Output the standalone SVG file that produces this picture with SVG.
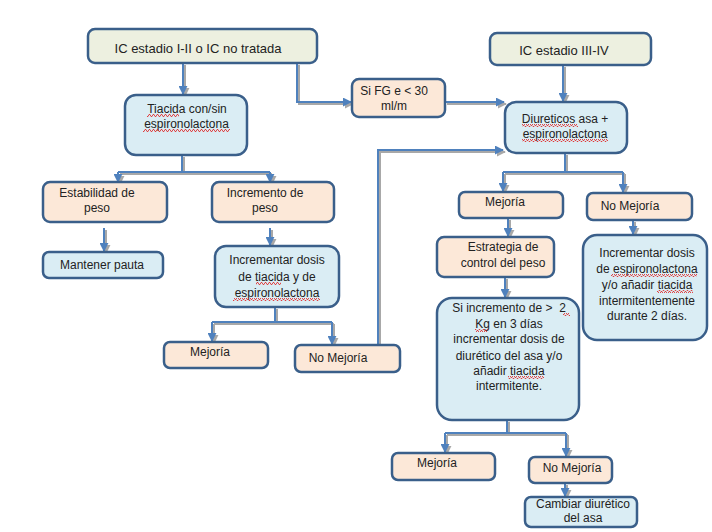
<svg xmlns="http://www.w3.org/2000/svg" width="712" height="532" viewBox="0 0 712 532">
<style>
.bx{stroke:#3A5F8A;stroke-width:2.5}
.g{fill:#EDF0E0}
.b{fill:#DAEDF4}
.p{fill:#FCE8D8}
text{font-family:"Liberation Sans",Arial,sans-serif;font-size:12px;fill:#222;text-anchor:middle}
.t13{font-size:13px}
.c{stroke:#4F81BD;stroke-width:2;fill:none}
.sh{stroke:#A8A8A8;stroke-width:2;fill:none}
.w{fill:url(#wavy)}
</style>
<defs>
<marker id="ah" viewBox="0 0 10 10" refX="9" refY="5" markerWidth="9" markerHeight="9" markerUnits="userSpaceOnUse" orient="auto">
<path d="M0,0 L10,5 L0,10 z" fill="#4F81BD"/>
</marker>
<marker id="ahs" viewBox="0 0 10 10" refX="9" refY="5" markerWidth="9" markerHeight="9" markerUnits="userSpaceOnUse" orient="auto">
<path d="M0,0 L10,5 L0,10 z" fill="#A8A8A8"/>
</marker>
<pattern id="wavy" width="4" height="3" patternUnits="userSpaceOnUse">
<polyline points="0,2.5 1,0.5 2,0.5 3,2.5 4,2.5" fill="none" stroke="#E02020" stroke-width="0.8"/>
</pattern>
</defs>
<rect width="712" height="532" fill="#FFFFFF"/>

<g id="connectors">
<g transform="translate(2,2)">
<path class="sh" d="M183,63 V94" marker-end="url(#ahs)"/>
<path class="sh" d="M297,63 V102 H351" marker-end="url(#ahs)"/>
<path class="sh" d="M445,102 H504" marker-end="url(#ahs)"/>
<path class="sh" d="M563,65 V101" marker-end="url(#ahs)"/>
<path class="sh" d="M182,155 V172 M118,172 H270"/>
<path class="sh" d="M118,172 V182" marker-end="url(#ahs)"/>
<path class="sh" d="M270,172 V182" marker-end="url(#ahs)"/>
<path class="sh" d="M104,228 V251" marker-end="url(#ahs)"/>
<path class="sh" d="M270,228 V245" marker-end="url(#ahs)"/>
<path class="sh" d="M275,307 V322 M212,322 H332"/>
<path class="sh" d="M212,322 V341" marker-end="url(#ahs)"/>
<path class="sh" d="M332,322 V344" marker-end="url(#ahs)"/>
<path class="sh" d="M378,345 V150 H503" marker-end="url(#ahs)"/>
<path class="sh" d="M565,153 V172 M503,172 H623"/>
<path class="sh" d="M503,172 V191" marker-end="url(#ahs)"/>
<path class="sh" d="M623,172 V192" marker-end="url(#ahs)"/>
<path class="sh" d="M508,218 V236" marker-end="url(#ahs)"/>
<path class="sh" d="M633,220 V234" marker-end="url(#ahs)"/>
<path class="sh" d="M505,277 V297" marker-end="url(#ahs)"/>
<path class="sh" d="M507,420 V433 M445,433 H566"/>
<path class="sh" d="M445,433 V452" marker-end="url(#ahs)"/>
<path class="sh" d="M566,433 V456" marker-end="url(#ahs)"/>
<path class="sh" d="M565,483 V496" marker-end="url(#ahs)"/>
</g>
<path class="c" d="M183,63 V94" marker-end="url(#ah)"/>
<path class="c" d="M297,63 V102 H351" marker-end="url(#ah)"/>
<path class="c" d="M445,102 H504" marker-end="url(#ah)"/>
<path class="c" d="M563,65 V101" marker-end="url(#ah)"/>
<path class="c" d="M182,155 V172 M118,172 H270"/>
<path class="c" d="M118,172 V182" marker-end="url(#ah)"/>
<path class="c" d="M270,172 V182" marker-end="url(#ah)"/>
<path class="c" d="M104,228 V251" marker-end="url(#ah)"/>
<path class="c" d="M270,228 V245" marker-end="url(#ah)"/>
<path class="c" d="M275,307 V322 M212,322 H332"/>
<path class="c" d="M212,322 V341" marker-end="url(#ah)"/>
<path class="c" d="M332,322 V344" marker-end="url(#ah)"/>
<path class="c" d="M378,345 V150 H503" marker-end="url(#ah)"/>
<path class="c" d="M565,153 V172 M503,172 H623"/>
<path class="c" d="M503,172 V191" marker-end="url(#ah)"/>
<path class="c" d="M623,172 V192" marker-end="url(#ah)"/>
<path class="c" d="M508,218 V236" marker-end="url(#ah)"/>
<path class="c" d="M633,220 V234" marker-end="url(#ah)"/>
<path class="c" d="M505,277 V297" marker-end="url(#ah)"/>
<path class="c" d="M507,420 V433 M445,433 H566"/>
<path class="c" d="M445,433 V452" marker-end="url(#ah)"/>
<path class="c" d="M566,433 V456" marker-end="url(#ah)"/>
<path class="c" d="M565,483 V496" marker-end="url(#ah)"/>
</g>

<g id="n-ic12">
<rect class="bx g" x="88" y="29" width="229" height="34" rx="7"/>
<text class="t13" x="198" y="52.5">IC estadio I-II o IC no tratada</text>
</g>
<g id="n-ic34">
<rect class="bx g" x="490" y="33" width="161" height="32" rx="7"/>
<text class="t13" x="564" y="54.5">IC estadio III-IV</text>
</g>
<g id="n-sifg">
<rect class="bx p" x="352" y="79" width="93" height="38" rx="7"/>
<text x="394" y="95">Si FG e &lt; 30</text>
<text x="394" y="110">ml/m</text>
</g>
<g id="n-tiacida">
<rect class="bx b" x="125" y="95" width="122" height="60" rx="11"/>
<text x="187" y="113">Tiacida con/sin</text>
<text x="186.5" y="128">espironolactona</text>
<rect class="w" x="147" y="114" width="32" height="3"/>
<rect class="w" x="143" y="129" width="87" height="3"/>
</g>
<g id="n-diureticos">
<rect class="bx b" x="505" y="102" width="122" height="51" rx="11"/>
<text x="565" y="123">Diureticos asa +</text>
<text x="565" y="138">espironolactona</text>
<rect class="w" x="522" y="124" width="56" height="3"/>
<rect class="w" x="522" y="139" width="86" height="3"/>
</g>
<g id="n-estabilidad">
<rect class="bx p" x="43" y="182" width="124" height="40" rx="7"/>
<text x="97" y="197">Estabilidad de</text>
<text x="97" y="212">peso</text>
</g>
<g id="n-incremento">
<rect class="bx p" x="212" y="182" width="122" height="40" rx="7"/>
<text x="265" y="197">Incremento de</text>
<text x="265" y="212">peso</text>
</g>
<g id="n-mantener">
<rect class="bx b" x="43" y="252" width="120" height="26" rx="6"/>
<text x="102" y="269">Mantener pauta</text>
</g>
<g id="n-incdosis-l">
<rect class="bx b" x="215" y="246" width="124" height="61" rx="11"/>
<text x="277" y="264">Incrementar dosis</text>
<text x="277" y="281">de tiacida y de</text>
<text x="277" y="297">espironolactona</text>
<rect class="w" x="256" y="282" width="25" height="3"/>
<rect class="w" x="233" y="298" width="87" height="3"/>
</g>
<g id="n-mejoria-l">
<rect class="bx p" x="164" y="342" width="104" height="26" rx="6"/>
<text x="210" y="356">Mejoría</text>
</g>
<g id="n-nomejoria-l">
<rect class="bx p" x="295" y="345" width="105" height="27" rx="6"/>
<text x="338" y="362">No Mejoría</text>
</g>
<g id="n-mejoria-r">
<rect class="bx p" x="459" y="192" width="104" height="26" rx="6"/>
<text x="505" y="206">Mejoría</text>
</g>
<g id="n-nomejoria-r">
<rect class="bx p" x="587" y="193" width="105" height="27" rx="6"/>
<text x="630" y="210">No Mejoría</text>
</g>
<g id="n-estrategia">
<rect class="bx p" x="437" y="237" width="117" height="40" rx="7"/>
<text x="503" y="251">Estrategia de</text>
<text x="503" y="267">control del peso</text>
</g>
<g id="n-incdosis-r">
<rect class="bx b" x="583" y="235" width="124" height="105" rx="14"/>
<text x="647" y="257">Incrementar dosis</text>
<text x="647" y="273">de espironolactona</text>
<text x="647" y="289">y/o añadir tiacida</text>
<text x="647" y="305">intermitentemente</text>
<text x="647" y="320">durante 2 días.</text>
<rect class="w" x="611" y="274" width="86" height="3"/>
<rect class="w" x="657" y="290" width="36" height="3"/>
</g>
<g id="n-siincremento">
<rect class="bx b" x="437" y="298" width="142" height="122" rx="15"/>
<text x="509" y="312" xml:space="preserve">Si incremento de &gt;  2</text>
<text x="509" y="328">Kg en 3 días</text>
<text x="509" y="343">incrementar dosis de</text>
<text x="509" y="360">diurético del asa y/o</text>
<text x="509" y="375">añadir tiacida</text>
<text x="509" y="390">intermitente.</text>
<rect class="w" x="563" y="313" width="7" height="3"/>
<rect class="w" x="475" y="329" width="13" height="3"/>
<rect class="w" x="508" y="376" width="36" height="3"/>
</g>
<g id="n-mejoria-b">
<rect class="bx p" x="392" y="453" width="103" height="27" rx="6"/>
<text x="437" y="467">Mejoría</text>
</g>
<g id="n-nomejoria-b">
<rect class="bx p" x="529" y="457" width="83" height="26" rx="6"/>
<text x="572" y="472">No Mejoría</text>
</g>
<g id="n-cambiar">
<rect class="bx b" x="525" y="497" width="112" height="30" rx="6"/>
<text x="583" y="508">Cambiar diurético</text>
<text x="583" y="522">del asa</text>
</g>
</svg>
